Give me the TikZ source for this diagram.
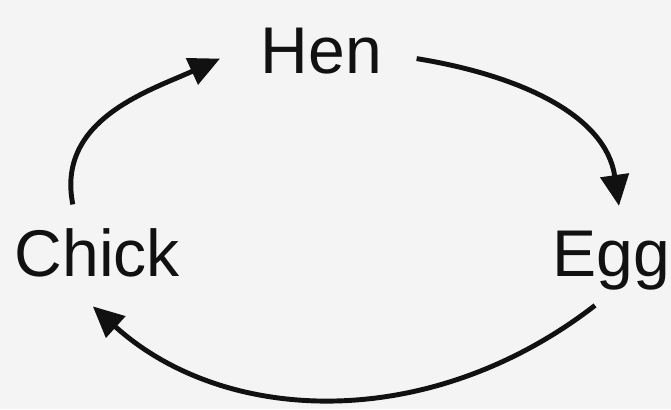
\documentclass[tikz,border=0pt]{standalone}
\usepackage{fontspec}
\setmainfont{Liberation Sans}
\usepackage{tikz}
\usetikzlibrary{arrows.meta,calc}
\definecolor{paper}{HTML}{F4F4F4}
\definecolor{ink}{HTML}{111111}

\begin{document}
\begin{tikzpicture}[
    stage/.style={inner sep=0pt, anchor=base west, text=ink, font=\fontsize{18.8}{22}\selectfont},
    cyclearrow/.style={-{Triangle[length=8.8pt,width=8pt]}, line width=1.4pt, draw=ink}
  ]
    \fill[paper] (0,0) rectangle (6.71,4.09);
    \useasboundingbox (0,0) rectangle (6.71,4.09);

    \node[stage] (hen) at (2.60,3.36) {Hen};
    \node[stage] (chick) at (0.14,1.33) {Chick};
    \node[stage] (egg) at (5.52,1.33) {Egg};

    \draw[cyclearrow] ([xshift=-0.245cm,yshift=0.23cm]chick.north)
        .. controls +(-0.17,0.85) and +(-0.70,-0.32) .. ([xshift=-0.40cm,yshift=-0.08cm]hen.west);
    \draw[cyclearrow] ([xshift=0.34cm,yshift=-0.08cm]hen.east)
        .. controls +(1.05,-0.17) and +(-0.13,0.90) .. ([xshift=0.075cm,yshift=0.24cm]egg.north);
    \draw[cyclearrow] ([xshift=-0.165cm,yshift=-0.15cm]egg.south)
        .. controls +(-1.64,-1.27) and +(1.33,-1.20) .. ([xshift=-0.045cm,yshift=-0.29cm]chick.south);
  \end{tikzpicture}
\end{document}
